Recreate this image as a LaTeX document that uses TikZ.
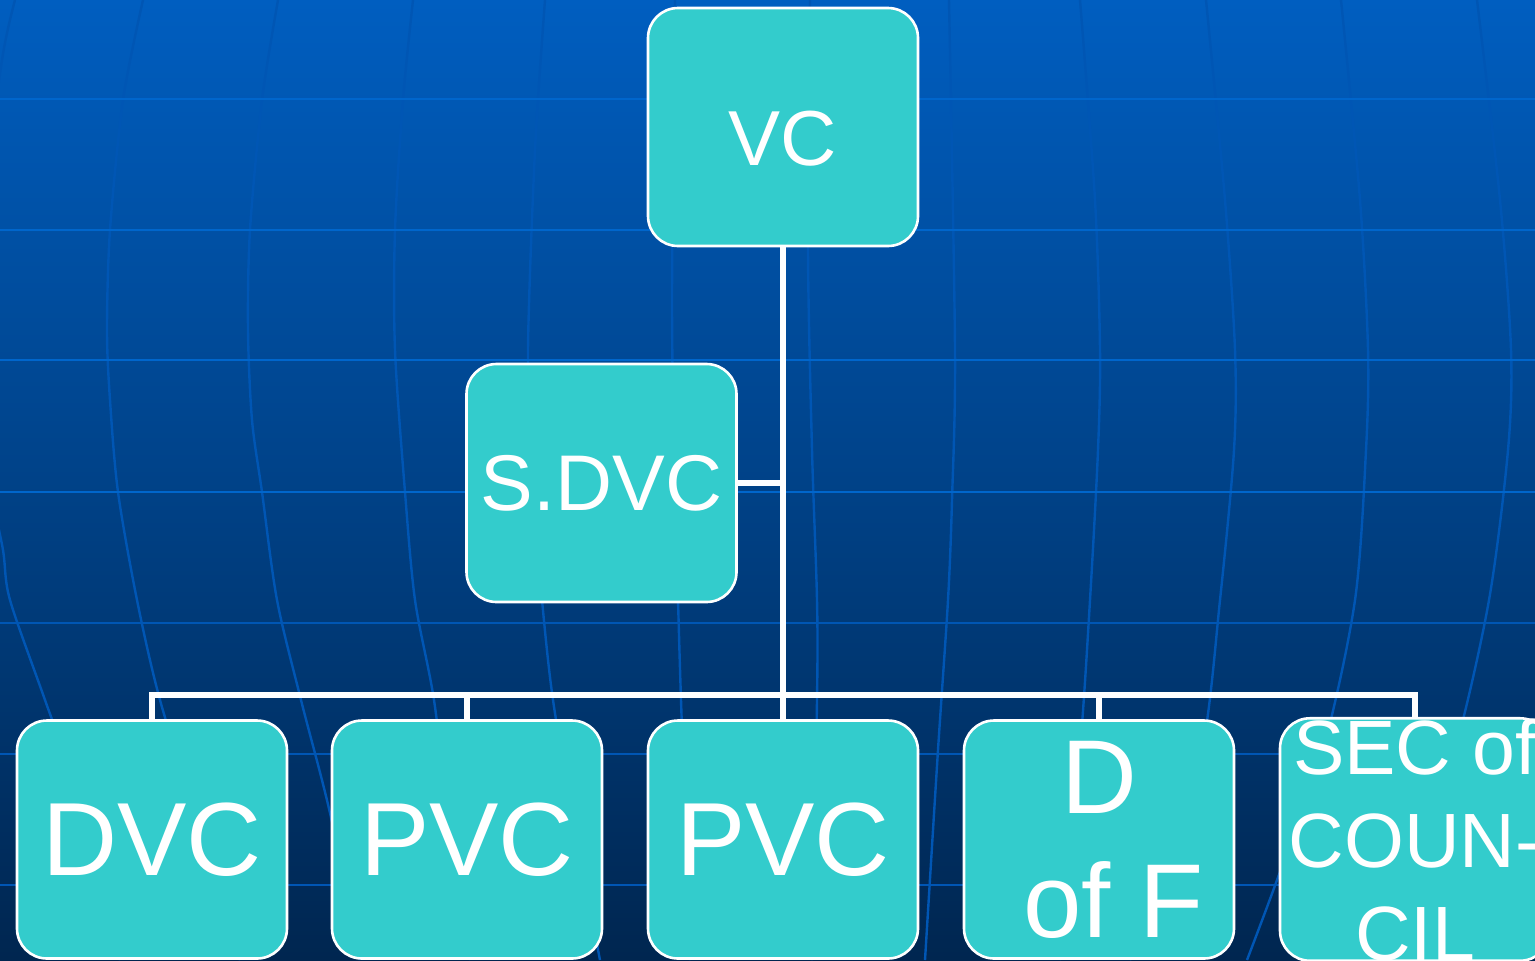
\documentclass[tikz,border=0pt]{standalone}
\usepackage{fontspec}
\setmainfont{Liberation Sans}
\usetikzlibrary{positioning}
\definecolor{tealbox}{RGB}{51,204,204}
\definecolor{bgtop}{RGB}{0,94,192}
\definecolor{bgmid}{RGB}{0,68,142}
\definecolor{bgbot}{RGB}{0,38,80}
\definecolor{gridblue}{RGB}{0,102,204}
\definecolor{gridfaint}{RGB}{0,86,180}
\newcommand\midsize{\fontsize{39}{47}\selectfont}
\newcommand\bigsize{\fontsize{52}{62}\selectfont}

\begin{document}
\begin{tikzpicture}[% styles for the whole chart, 1 unit = 1 pixel of the slide
    x=0.5pt, y=-0.5pt,
    every node/.style={
        align=center,   % so that "\\" breaks the lines
        text=white,
        inner sep=0pt
    },
    post/.style={rectangle, rounded corners=15pt, draw=white, line width=1.3pt,
        fill=tealbox, minimum width=135pt, minimum height=119pt},
    link/.style={draw=white, line width=2.8pt},
    latitude/.style={draw=gridblue, line width=1.3pt},
    meridian/.style={draw=gridfaint, line width=1.2pt}
]
    \useasboundingbox (0,0) rectangle (1535,960);
    \clip (0,0) rectangle (1535,960);
    \shade[top color=bgtop, middle color=bgmid, bottom color=bgbot] (0,0) rectangle (1535,960);

    % globe in the background
    \draw[meridian] plot[smooth] coordinates {(15,0) (2,60) (-15,200) (-20,350) (-10,480) (3,550) (10,600) (45,700) (80,800) (120,960)};
    \draw[meridian] plot[smooth] coordinates {(143,0) (123,100) (110,230) (107,330) (110,400) (118,492) (137,600) (160,700) (200,830) (240,960)};
    \draw[meridian] plot[smooth] coordinates {(278,0) (262,100) (250,230) (248,330) (252,420) (262,492) (277,600) (301,700) (330,813) (360,960)};
    \draw[meridian] plot[smooth] coordinates {(413,0) (403,100) (395,230) (395,350) (405,492) (415,600) (434,700) (450,830) (470,960)};
    \draw[meridian] plot[smooth] coordinates {(545,0) (535,150) (528,350) (532,480) (542,600) (553,700) (575,830) (600,960)};
    \draw[meridian] plot[smooth] coordinates {(675,0) (672,300) (675,500) (678,600) (681,700) (690,960)};
    \draw[meridian] plot[smooth] coordinates {(810,0) (808,250) (812,450) (817,600) (817,700) (812,960)};
    \draw[meridian] plot[smooth] coordinates {(949,0) (955,350) (952,500) (948,600) (938,750) (925,960)};
    \draw[meridian] plot[smooth] coordinates {(1080,0) (1095,200) (1100,350) (1098,450) (1090,600) (1080,750) (1060,960)};
    \draw[meridian] plot[smooth] coordinates {(1206,0) (1225,200) (1235,350) (1234,450) (1220,600) (1202,750) (1160,880) (1130,960)};
    \draw[meridian] plot[smooth] coordinates {(1341,0) (1360,200) (1368,350) (1366,450) (1355,600) (1323,750) (1277,880) (1247,960)};
    \draw[meridian] plot[smooth] coordinates {(1477,0) (1500,200) (1511,350) (1508,450) (1489,600) (1455,750) (1410,880) (1380,960)};
    \foreach \y in {99,230,360,492}
        \draw[latitude] (0,\y) -- (1535,\y);
    \foreach \y in {623,754,885}
        \draw[meridian] (0,\y) -- (1535,\y);

    % the chart
    \node[post, font=\midsize, text height=38pt, text depth=0pt] (vc) at (783,127) {VC};
    \node[post, font=\fontsize{39.5}{47}\selectfont] (sdvc) at (601.5,483) {S.DVC};
    \node[post, font=\bigsize] (pvcb) at (783,839.5) {PVC};
    \node[post, font=\bigsize] (pvca) [left=21.7pt of pvcb] {PVC};
    \node[post, font=\bigsize] (dvc) [left=21.2pt of pvca] {DVC};
    \node[post, font=\fontsize{52.5}{62}\selectfont] (dof) [right=21.7pt of pvcb] {D\\\hspace*{0.28em}of F};
    \node[post, font=\fontsize{38.5}{46.5}\selectfont] (sec) [right=21.7pt of dof] {SEC of\\COUN-\\CIL};

    \path (pvcb.north) ++(0,-24) coordinate (bus);
    \draw[link] (vc.south) -- (pvcb.north);
    \draw[link] (sdvc.east) -- (sdvc.east -| vc.south);
    \draw[link] (dvc.north) |- (bus) -| (sec.north);
    \draw[link] (pvca.north) -- (pvca.north |- bus);
    \draw[link] (dof.north) -- (dof.north |- bus);
\end{tikzpicture}
\end{document}
